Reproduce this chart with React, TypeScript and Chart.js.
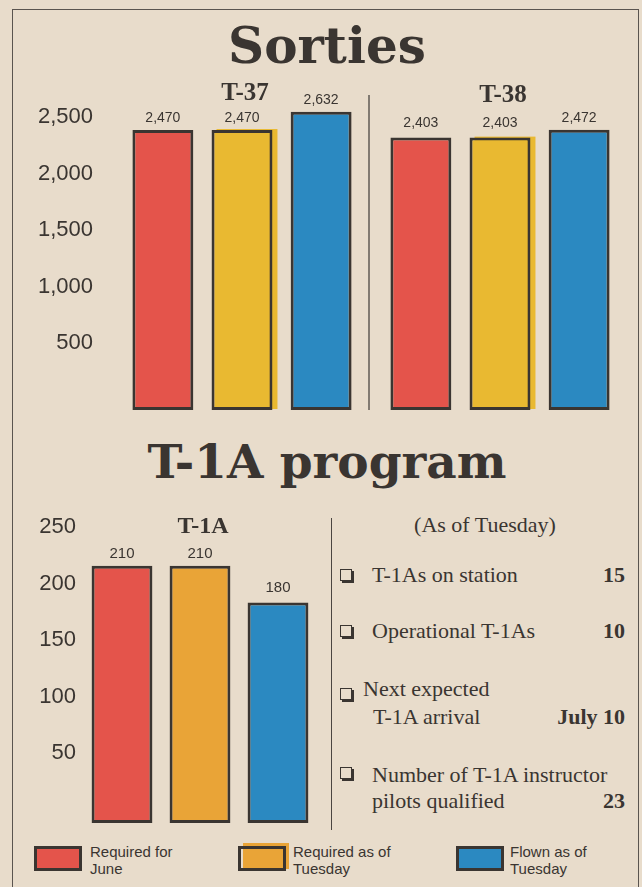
import React, { useEffect, useRef } from "react";
import { Chart, registerables } from "chart.js";

Chart.register(...registerables);

// ---------- data ----------
const sortieAircraft = ["T-37", "T-38"];
const sortieRequiredJune = [2470, 2403];
const sortieRequiredTuesday = [2470, 2403];
const sortieFlownTuesday = [2632, 2472];
const sortieTickValues = [500, 1000, 1500, 2000, 2500];

const t1aAircraft = ["T-1A"];
const t1aRequiredJune = [210];
const t1aRequiredTuesday = [210];
const t1aFlownTuesday = [180];
const t1aTickValues = [50, 100, 150, 200, 250];

const seriesLabels = ["Required for June", "Required as of Tuesday", "Flown as of Tuesday"];
const legendLines = [
  ["Required for", "June"],
  ["Required as of", "Tuesday"],
  ["Flown as of", "Tuesday"],
];

const statusHeading = "(As of Tuesday)";
const statusLabels = [
  ["T-1As on station"],
  ["Operational T-1As"],
  ["Next expected", "T-1A arrival"],
  ["Number of T-1A instructor", "pilots qualified"],
];
const statusValues = ["15", "10", "July 10", "23"];

// ---------- styles ----------
const PAPER = "#e8dccb";
const INK = "#3a3531";
const RED = "#e4544b";
const YELLOW = "#e9b931";
const ORANGE = "#e9a437";
const BLUE = "#2b89c1";
const SANS = "'Liberation Sans', Arial, sans-serif";
const SERIF = "'Liberation Serif', 'Times New Roman', serif";
const TITLE_SERIF = "'DejaVu Serif', 'Liberation Serif', serif";

type PanelProps = {
  labels: string[];
  series: number[][];
  colors: string[];
  tickValues: number[];
  barMax: number;
  labelMin: number;
  labelMax: number;
  axisWidth: number;
  tickPadding: number;
  padding: { top: number; right: number; bottom: number; left: number };
  categoryPercentage: number;
  barPercentage: number;
  tickFontSize: number;
  valueFontSize: number;
  groupFontSize: number;
  groupY: number[];
  valueGap: number[][];
  divider: boolean;
  misregister: boolean;
  width: number;
  height: number;
  left: number;
  top: number;
};

function BarPanel(p: PanelProps) {
  const ref = useRef<HTMLCanvasElement | null>(null);
  useEffect(() => {
    if (!ref.current) return;
    const annotate = {
      id: "annotate",
      beforeDatasetsDraw(chart: any) {
        const ctx = chart.ctx;
        ctx.save();
        if (p.divider) {
          const a = chart.getDatasetMeta(chart.data.datasets.length - 1).data[0];
          const b = chart.getDatasetMeta(0).data[1];
          if (a && b) {
            const x = (a.x + a.width / 2 + (b.x - b.width / 2)) / 2 - 2;
            ctx.strokeStyle = "#4a4541";
            ctx.lineWidth = 1.3;
            ctx.beginPath();
            ctx.moveTo(x, chart.chartArea.top);
            ctx.lineTo(x, chart.chartArea.bottom);
            ctx.stroke();
          }
        }
        if (p.misregister) {
          const meta = chart.getDatasetMeta(1);
          meta.data.forEach((bar: any) => {
            ctx.fillStyle = YELLOW;
            const l = bar.x - bar.width / 2 + 5;
            ctx.fillRect(l, bar.y - 1, bar.width, bar.base - bar.y);
          });
        }
        ctx.restore();
      },
      afterDatasetsDraw(chart: any) {
        const ctx = chart.ctx;
        ctx.save();
        ctx.fillStyle = INK;
        ctx.textAlign = "center";
        ctx.textBaseline = "middle";
        ctx.font = `${p.valueFontSize}px ${SANS}`;
        chart.data.datasets.forEach((ds: any, i: number) => {
          const meta = chart.getDatasetMeta(i);
          meta.data.forEach((bar: any, j: number) => {
            ctx.fillText(Number(ds.data[j]).toLocaleString("en-US"), bar.x, bar.y - p.valueGap[i][j]);
          });
        });
        ctx.font = `bold ${p.groupFontSize}px ${SERIF}`;
        chart.data.labels.forEach((lab: string, j: number) => {
          const x = chart.scales.x.getPixelForValue(j) + 3;
          ctx.fillText(lab, x, p.groupY[j]);
        });
        ctx.restore();
      },
    };
    const chart = new Chart(ref.current, {
      type: "bar",
      data: {
        labels: p.labels,
        datasets: p.series.map((data, i) => ({
          label: seriesLabels[i],
          data,
          backgroundColor: p.colors[i],
          borderColor: INK,
          borderWidth: 3,
          borderSkipped: false,
          categoryPercentage: p.categoryPercentage,
          barPercentage: p.barPercentage,
          yAxisID: "y",
        })),
      },
      options: {
        animation: false,
        responsive: false,
        maintainAspectRatio: false,
        layout: { padding: p.padding },
        plugins: { legend: { display: false }, tooltip: { enabled: false }, title: { display: false } },
        scales: {
          x: { display: false },
          y: { display: false, min: 0, max: p.barMax },
          yLab: {
            position: "left",
            min: p.labelMin,
            max: p.labelMax,
            grid: { display: false, drawTicks: false },
            border: { display: false },
            afterBuildTicks: (s: any) => {
              s.ticks = p.tickValues.map((v) => ({ value: v }));
            },
            afterFit: (s: any) => {
              s.width = p.axisWidth;
              s.paddingTop = 0;
              s.paddingBottom = 0;
            },
            ticks: {
              padding: p.tickPadding,
              color: INK,
              font: { family: SANS, size: p.tickFontSize },
              callback: (v: any) => Number(v).toLocaleString("en-US"),
            },
          },
        },
      } as any,
      plugins: [annotate],
    });
    return () => chart.destroy();
  }, []);
  return (
    <canvas
      ref={ref}
      width={p.width}
      height={p.height}
      style={{ position: "absolute", left: p.left, top: p.top, width: p.width, height: p.height }}
    />
  );
}

function CheckBox({ left, top }: { left: number; top: number }) {
  return (
    <div
      style={{
        position: "absolute",
        left,
        top,
        width: 10,
        height: 10,
        border: `1.5px solid ${INK}`,
        boxShadow: `2px 2px 0 ${INK}`,
        background: PAPER,
      }}
    />
  );
}

export default function App() {
  const statusRows = [
    { box: 569, lines: [564], x: 372, valTop: 564 },
    { box: 625, lines: [620], x: 372, valTop: 620 },
    { box: 688, lines: [678, 706], x: 363, x2: 373, valTop: 706 },
    { box: 767, lines: [764, 790], x: 372, valTop: 790 },
  ];
  const legendPos = [
    { sx: 34, tx: 90, color: RED },
    { sx: 238, tx: 293, color: ORANGE },
    { sx: 456, tx: 510, color: BLUE },
  ];
  return (
    <div
      style={{
        position: "absolute",
        left: 0,
        top: 0,
        width: 642,
        height: 887,
        background: PAPER,
        overflow: "hidden",
        color: INK,
      }}
    >
      <div
        style={{
          position: "absolute",
          left: 12,
          top: 9,
          width: 627,
          height: 900,
          boxSizing: "border-box",
          border: "1.5px solid #5a544f",
        }}
      />
      <div
        style={{
          position: "absolute",
          left: 12,
          width: 630,
          top: 19,
          textAlign: "center",
          fontFamily: TITLE_SERIF,
          fontWeight: "bold",
          fontSize: 50,
          lineHeight: "54px",
          whiteSpace: "nowrap",
        }}
      >
        Sorties
      </div>
      <BarPanel
        labels={sortieAircraft}
        series={[sortieRequiredJune, sortieRequiredTuesday, sortieFlownTuesday]}
        colors={[RED, YELLOW, BLUE]}
        tickValues={sortieTickValues}
        barMax={2779}
        labelMin={-93}
        labelMax={2695}
        axisWidth={101}
        tickPadding={20}
        padding={{ top: 15, right: 5, bottom: 10, left: 0 }}
        categoryPercentage={0.92}
        barPercentage={0.77}
        tickFontSize={22}
        valueFontSize={14}
        groupFontSize={25}
        groupY={[14, 16]}
        valueGap={[[12, 14], [12, 14], [12, 12]]}
        divider={true}
        misregister={true}
        width={622}
        height={340}
        left={12}
        top={80}
      />
      <div
        style={{
          position: "absolute",
          left: 12,
          width: 630,
          top: 438,
          textAlign: "center",
          fontFamily: TITLE_SERIF,
          fontWeight: "bold",
          fontSize: 47,
          lineHeight: "47px",
          whiteSpace: "nowrap",
        }}
      >
        T-1A program
      </div>
      <BarPanel
        labels={t1aAircraft}
        series={[t1aRequiredJune, t1aRequiredTuesday, t1aFlownTuesday]}
        colors={[RED, ORANGE, BLUE]}
        tickValues={t1aTickValues}
        barMax={251.4}
        labelMin={-11.9}
        labelMax={260.6}
        axisWidth={71}
        tickPadding={7}
        padding={{ top: 15, right: 5, bottom: 7, left: 0 }}
        categoryPercentage={1.0}
        barPercentage={0.78}
        tickFontSize={22}
        valueFontSize={15}
        groupFontSize={24}
        groupY={[27]}
        valueGap={[[12], [12], [15]]}
        divider={false}
        misregister={false}
        width={310}
        height={330}
        left={12}
        top={500}
      />
      <div style={{ position: "absolute", left: 331, top: 518, width: 1.3, height: 312, background: "#4a4541" }} />
      <div
        style={{
          position: "absolute",
          left: 335,
          width: 300,
          top: 514,
          textAlign: "center",
          fontFamily: SERIF,
          fontSize: 22,
          lineHeight: "22px",
          whiteSpace: "nowrap",
        }}
      >
        {statusHeading}
      </div>
      {statusRows.map((r, i) => (
        <React.Fragment key={i}>
          <CheckBox left={340} top={r.box} />
          {statusLabels[i].map((t, k) => (
            <div
              key={k}
              style={{
                position: "absolute",
                left: k === 0 ? r.x : (r as any).x2 ?? r.x,
                top: r.lines[k],
                fontFamily: SERIF,
                fontSize: 22,
                lineHeight: "22px",
                whiteSpace: "nowrap",
              }}
            >
              {t}
            </div>
          ))}
          <div
            style={{
              position: "absolute",
              right: 642 - 625,
              top: r.valTop,
              fontFamily: SERIF,
              fontWeight: "bold",
              fontSize: 22,
              lineHeight: "22px",
              whiteSpace: "nowrap",
            }}
          >
            {statusValues[i]}
          </div>
        </React.Fragment>
      ))}
      {legendPos.map((l, i) => (
        <React.Fragment key={i}>
          {i === 1 ? (
            <div style={{ position: "absolute", left: l.sx + 5, top: 843, width: 46, height: 26, background: ORANGE }} />
          ) : null}
          <div
            style={{
              position: "absolute",
              left: l.sx,
              top: 846,
              width: 48,
              height: 25,
              boxSizing: "border-box",
              border: `3px solid ${INK}`,
              background: i === 1 ? "transparent" : l.color,
            }}
          />
          <div
            style={{
              position: "absolute",
              left: l.tx,
              top: 843,
              fontFamily: SANS,
              fontSize: 15,
              lineHeight: "17px",
              whiteSpace: "nowrap",
            }}
          >
            {legendLines[i][0]}
            <br />
            {legendLines[i][1]}
          </div>
        </React.Fragment>
      ))}
    </div>
  );
}
